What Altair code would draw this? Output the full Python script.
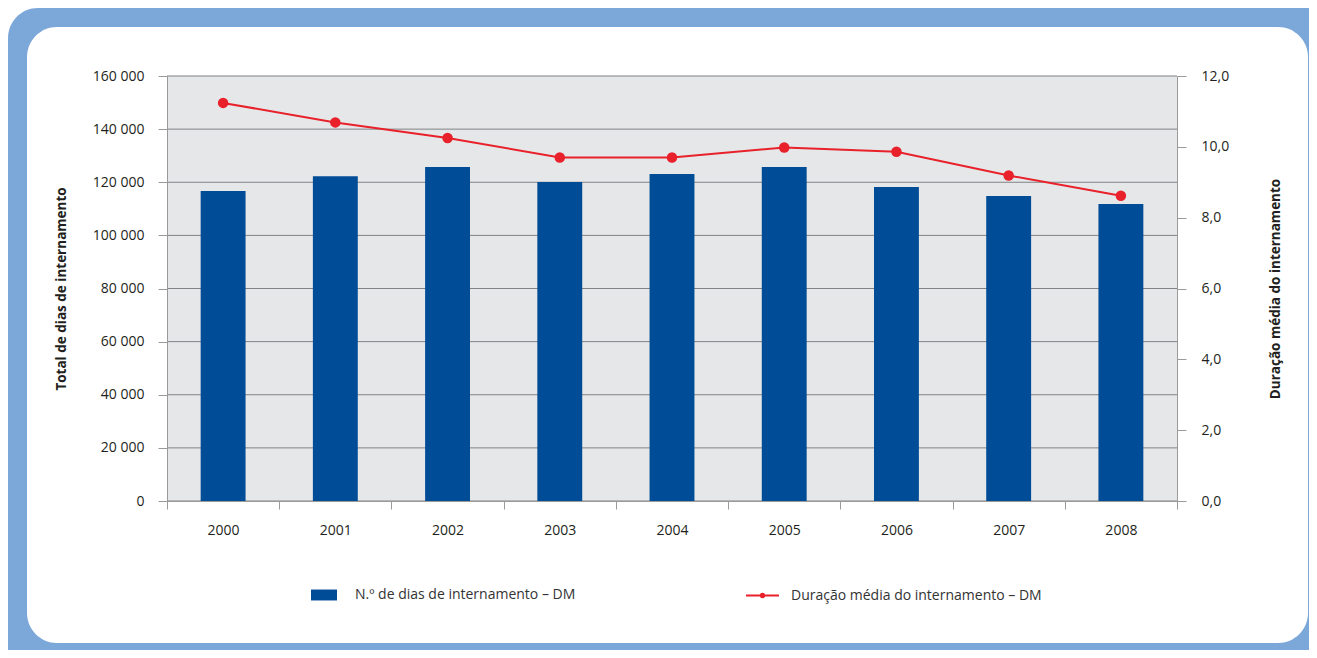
import altair as alt
import pandas as pd

# ---- data ----
years = ["2000", "2001", "2002", "2003", "2004", "2005", "2006", "2007", "2008"]
dias = [116700, 122300, 125700, 120100, 123100, 125700, 118200, 114800, 111800]
duracao = [11.24, 10.69, 10.25, 9.70, 9.70, 9.98, 9.86, 9.19, 8.62]
series = ["N.º de dias de internamento – DM", "Duração média do internamento – DM"]
left_ticks = [0, 20000, 40000, 60000, 80000, 100000, 120000, 140000, 160000]
right_ticks = [0, 2, 4, 6, 8, 10, 12]

BLUE = "#004C97"
RED = "#E8212B"
FRAME = "#7BA7D9"
PLOTBG = "#E6E7E8"
GRID = "#808285"
AXISC = "#9A9A9A"
FONT = "Open Sans"
W, H = 1010, 425

df = pd.DataFrame({"ano": years, "dias": dias, "duracao": duracao,
                   "s1": series[0], "s2": series[1]})
grid_df = pd.DataFrame({"v": left_ticks})
one = alt.Data(values=[{"k": 1}])

xenc = alt.X("ano:N", sort=years,
             scale=alt.Scale(paddingInner=0, paddingOuter=0),
             axis=alt.Axis(title=None, labelAngle=0, tickBand="extent", tickSize=8,
                           tickColor=AXISC, domainColor=AXISC, labelPadding=14,
                           labelFont=FONT, labelFontSize=14, labelColor="#231F20",
                           grid=False, zindex=1))

# decorative frame (background panels)
outer = alt.Chart(one).mark_rect(color=FRAME, cornerRadius=30).encode(
    x=alt.value(-159), x2=alt.value(1180), y=alt.value(-68), y2=alt.value(620))
inner = alt.Chart(one).mark_rect(color="white", cornerRadius=30).encode(
    x=alt.value(-140), x2=alt.value(1141), y=alt.value(-49), y2=alt.value(567))
plotbg = alt.Chart(one).mark_rect(color=PLOTBG).encode(
    x=alt.value(0), x2=alt.value(W), y=alt.value(0), y2=alt.value(H))

grid = alt.Chart(grid_df).mark_rule(color=GRID, strokeWidth=1).encode(
    y=alt.Y("v:Q", scale=alt.Scale(domain=[0, 160000], nice=False), axis=None))

bars = alt.Chart(df).mark_bar(width={"band": 0.4}).encode(
    x=xenc,
    y=alt.Y("dias:Q", scale=alt.Scale(domain=[0, 160000], nice=False),
            axis=alt.Axis(orient="left", values=left_ticks, grid=False, zindex=1,
                          labelExpr="replace(format(datum.value, ',.0f'), ',', ' ')",
                          tickSize=9, tickColor=AXISC, domainColor=AXISC,
                          labelPadding=14, labelFont=FONT, labelFontSize=14,
                          labelColor="#231F20",
                          title="Total de dias de internamento", titleFont=FONT,
                          titleFontSize=13.5, titleFontWeight="bold", titleColor="#231F20",
                          titleAngle=270, titleBaseline="middle", titleX=-106,
                          titleY=H / 2)),
    color=alt.Color("s1:N", scale=alt.Scale(domain=[series[0]], range=[BLUE]),
                    legend=alt.Legend(orient="none", legendX=144, legendY=506,
                                      title=None, padding=0, labelLimit=500,
                                      symbolType="M-1,-0.42H1V0.42H-1Z",
                                      symbolSize=676, symbolStrokeWidth=0,
                                      labelOffset=18, labelFont=FONT,
                                      labelFontSize=14, labelColor="#333333")),
)

line = alt.Chart(df).mark_line(strokeWidth=2).encode(
    x=alt.X("ano:N", sort=years),
    y=alt.Y("duracao:Q", scale=alt.Scale(domain=[0, 12], nice=False),
            axis=alt.Axis(orient="right", values=right_ticks, grid=False, zindex=1,
                          labelExpr="replace(format(datum.value, '.1f'), '.', ',')",
                          tickSize=9, tickColor=AXISC, domainColor=AXISC,
                          labelPadding=15, labelFont=FONT, labelFontSize=14,
                          labelColor="#231F20",
                          title="Duração média do internamento", titleFont=FONT,
                          titleFontSize=13.5, titleFontWeight="bold", titleColor="#231F20",
                          titleAngle=270, titleBaseline="middle", titleX=98,
                          titleY=H / 2)),
    stroke=alt.Stroke("s2:N", scale=alt.Scale(domain=[series[1]], range=[RED]),
                      legend=alt.Legend(orient="none", legendX=578, legendY=502,
                                        title=None, padding=0, labelLimit=500,
                                        symbolType="M-1,0H1M-0.1,0A0.1,0.1,0,1,0,0.1,0A0.1,0.1,0,1,0,-0.1,0Z",
                                        symbolSize=1089, symbolStrokeWidth=2,
                                        symbolFillColor=RED,
                                        labelOffset=11, labelFont=FONT,
                                        labelFontSize=14, labelColor="#333333")),
)

points = alt.Chart(df).mark_point(filled=True, size=110, opacity=1, color=RED).encode(
    x=alt.X("ano:N", sort=years),
    y=alt.Y("duracao:Q", scale=alt.Scale(domain=[0, 12], nice=False), axis=None),
)

chart = alt.layer(outer, inner, plotbg, grid, bars, line, points).resolve_scale(
    y="independent"
).properties(
    width=W, height=H,
    padding={"left": 159, "top": 68, "right": 132, "bottom": 149},
    autosize=alt.AutoSizeParams(type="none"),
    background="white",
).configure_view(strokeWidth=0)

chart.save("out.html", embed_options={"renderer": "svg", "actions": False})
